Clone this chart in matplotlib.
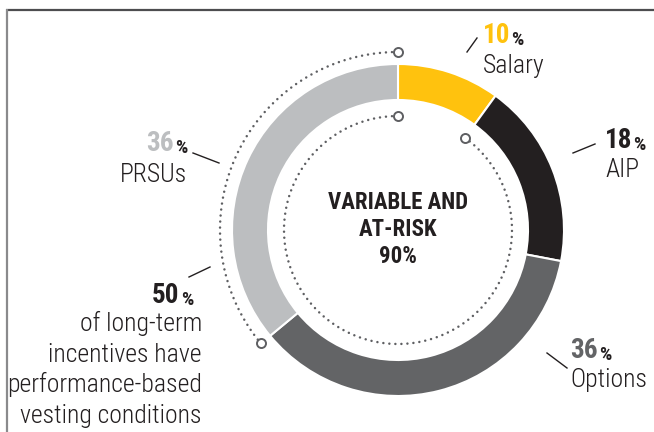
import matplotlib
matplotlib.use('Agg')
import numpy as np
import matplotlib.pyplot as plt

# pay mix (% of total target pay)
segments = ['Salary', 'AIP', 'Options', 'PRSUs']
shares = [10, 18, 36, 36]
seg_colors = ['#FFC20E', '#231F20', '#636466', '#BCBEC0']
num_colors = ['#FFC20E', '#231F20', '#636466', '#BCBEC0']
variable_share = 90
perf_share = 50
center_lines = ['VARIABLE AND', 'AT-RISK', f'{variable_share}%']
perf_lines = ['of long-term', 'incentives have', 'performance-based', 'vesting conditions']

plt.rcParams['font.family'] = ['Roboto Condensed', 'Barlow Condensed', 'DejaVu Sans']

W, H = 654, 432
fig = plt.figure(figsize=(W / 100, H / 100), dpi=100)
ax = fig.add_axes([0, 0, 1, 1])

def Y(y):  # pixel row (from top) -> data y
    return H - y

cx, cy = 398, Y(230)
R, ring = 166, 36
dot_col = '#5E5F62'
ink = '#231F20'

# donut
ax.pie(shares, colors=seg_colors, startangle=90, counterclock=False,
       radius=R, center=(cx, cy), frame=True,
       wedgeprops=dict(width=ring, edgecolor='white', linewidth=1.5))
ax.set_xlim(0, W)
ax.set_ylim(0, H)
ax.set_aspect('equal')
ax.axis('off')

# frame lines
ax.plot([6, W], [Y(9.5), Y(9.5)], color='#4D4D4F', lw=1.6, solid_capstyle='butt')
ax.plot([6.5, 6.5], [Y(9), 0], color='#8A8A8C', lw=1.6, solid_capstyle='butt')

# boundaries (degrees, counter-clockwise from +x)
cum = np.cumsum([0] + shares)
bound = [90 - 360 * c / 100 for c in cum]

def dotted_arc(r, a0, a1):
    t = np.radians(np.linspace(a0, a1, 400))
    ax.plot(cx + r * np.cos(t), cy + r * np.sin(t), color=dot_col, lw=1.8,
            dashes=(0.01, 2.4), dash_capstyle='round')
    for a in (a0, a1):
        ax.plot(cx + r * np.cos(np.radians(a)), cy + r * np.sin(np.radians(a)),
                'o', ms=6.5, mfc='white', mec=dot_col, mew=1.4, zorder=5)

# outer arc: PRSUs (performance-based LTI)
dotted_arc(178, 90, bound[3] + 360)
# inner arc: variable and at-risk pay (everything but salary)
dotted_arc(114, 90, bound[1] + 360)

# centre text
for i, s in enumerate(center_lines):
    ax.text(cx, Y(209 + 27 * i), s, ha='center', va='baseline',
            fontsize=16.5, fontweight='bold', color=ink)

NUM, PCT, LAB = 19.5, 14, 18.5

def pct_label(x, y, val, color, name_lines, align='left', name_dy=29, gap=30):
    if align == 'left':
        t = ax.text(x, Y(y), str(val), ha='left', va='baseline', fontsize=NUM,
                    fontweight='bold', color=color)
        ax.annotate('%', xy=(1, 0), xycoords=t, xytext=(0.8, 0),
                    textcoords='offset points', ha='left', va='bottom',
                    fontsize=PCT, fontweight='bold', color=ink)
    else:
        t = ax.text(x, Y(y), '%', ha='right', va='baseline', fontsize=PCT,
                    fontweight='bold', color=ink)
        ax.annotate(str(val), xy=(0, 0), xycoords=t, xytext=(-0.8, 0),
                    textcoords='offset points', ha='right', va='bottom',
                    fontsize=NUM, fontweight='bold', color=color)
    for i, s in enumerate(name_lines):
        ax.text(x, Y(y + name_dy + gap * i), s, ha=align, va='baseline',
                fontsize=LAB, fontweight='light', color=ink)

def tick(x0, y0, x1, y1):
    ax.plot([x0, x1], [Y(y0), Y(y1)], color=ink, lw=1)

pct_label(483, 43, shares[0], num_colors[0], [segments[0]], name_dy=30)
tick(467, 52, 477, 38)
pct_label(605, 148, shares[1], num_colors[1], [segments[1]])
tick(573, 153, 595, 144)
pct_label(570, 358, shares[2], num_colors[2], [segments[2]])
tick(547, 353, 567, 368)
pct_label(187, 153, shares[3], num_colors[3], [segments[3]], align='right')
tick(193, 153, 219, 163)

# performance-based note
t = ax.text(193, Y(305), '%', ha='right', va='baseline', fontsize=PCT,
            fontweight='bold', color=ink)
ax.annotate(str(perf_share), xy=(0, 0), xycoords=t, xytext=(-0.8, 0),
            textcoords='offset points', ha='right', va='bottom',
            fontsize=NUM, fontweight='bold', color=ink)
for i, s in enumerate(perf_lines):
    ax.text(202, Y(331 + 30.7 * i), s, ha='right', va='baseline',
            fontsize=LAB, fontweight='light', color=ink)
tick(189, 277, 210, 267)

fig.savefig('out.png', dpi=100)
